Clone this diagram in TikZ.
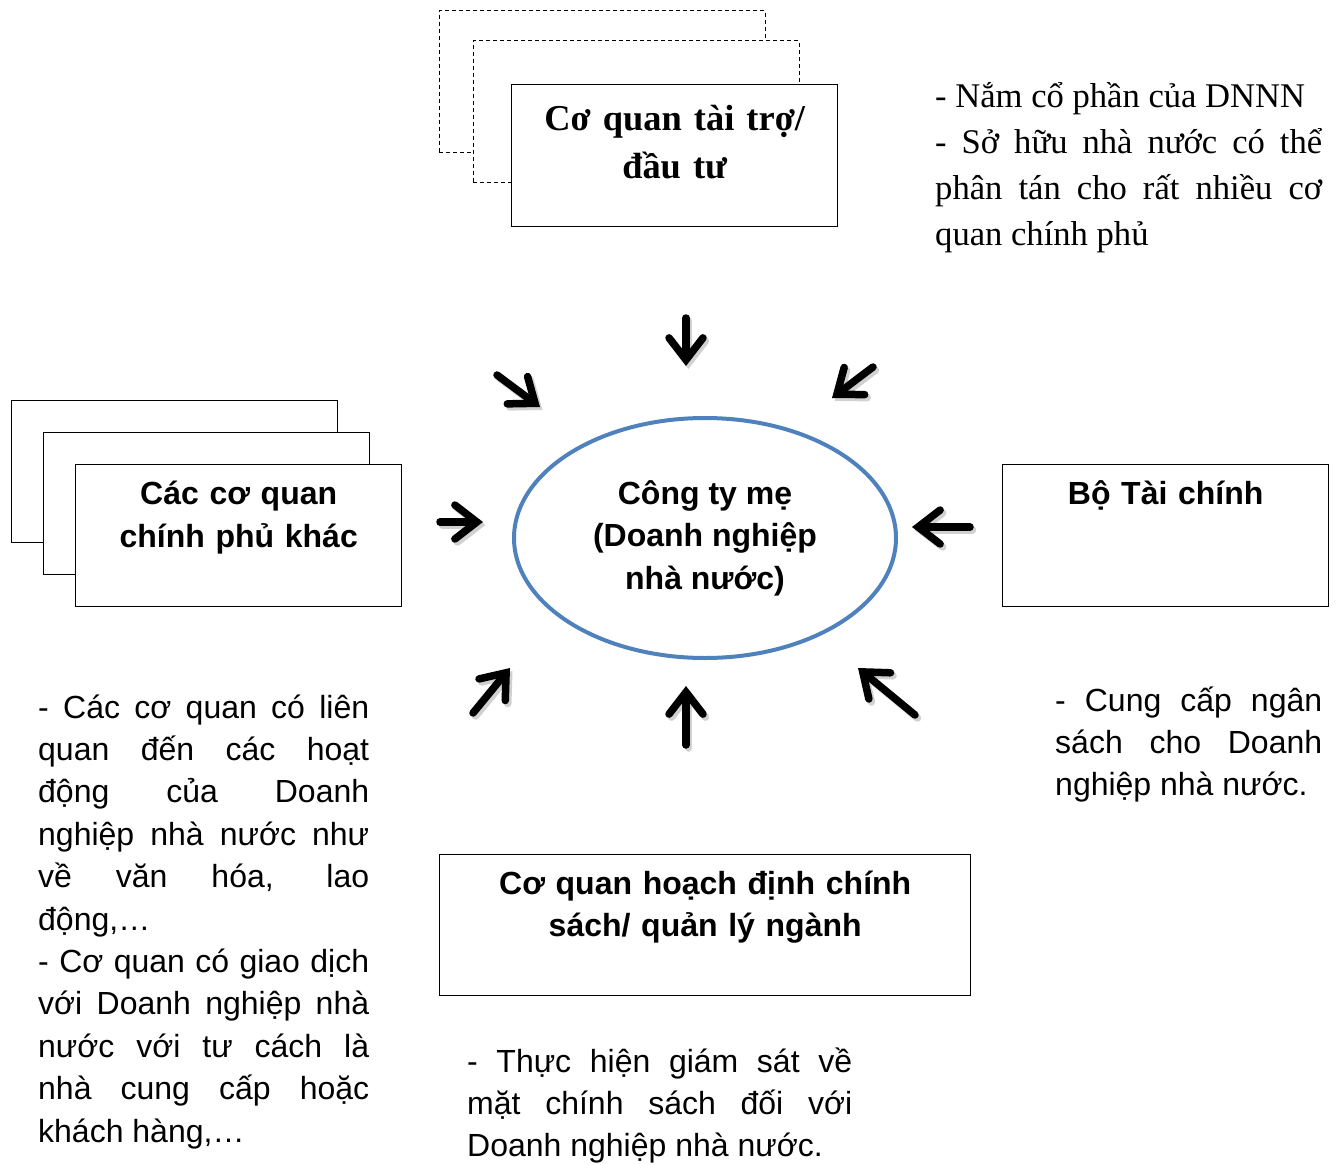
\documentclass[tikz,border=0pt]{standalone}
\usepackage{fontspec}
\setmainfont{Liberation Serif}
\setsansfont{Liberation Sans}
\usetikzlibrary{arrows.meta,shapes.geometric,positioning}
\definecolor{ovalblue}{HTML}{4F81BD}
\hyphenpenalty=10000
\exhyphenpenalty=10000
\tolerance=10000
\hbadness=10000
\tikzset{
  agency/.style={draw, fill=white, line width=1.4pt, minimum width=326pt, minimum height=142pt, inner sep=0pt, anchor=north west},
  backbox/.style={agency, dash pattern=on 4pt off 3pt, line width=1.1pt},
  boxtitle/.style={font=\sffamily\bfseries\fontsize{32}{42.5}\selectfont, text width=440pt, align=center, inner sep=0pt, anchor=base},
  serifnote/.style={font=\fontsize{34.6}{46}\selectfont, align=justify, inner sep=0pt, anchor=base west},
  sansnote/.style={font=\sffamily\fontsize{32}{42.4}\selectfont, align=justify, inner sep=0pt, anchor=base west},
  inarrow/.style={line width=7.5pt, line cap=round, -{Straight Barb[length=22pt, width=34pt, line cap=round, line join=miter]}},
  arrowshadow/.style={inarrow, draw=black!18, transform canvas={shift={(2.5pt,-3pt)}}}
}
\begin{document}
\begin{tikzpicture}[x=1pt, y=-1pt]
    \useasboundingbox (0,0) rectangle (1342,1165);
    % funding / investing agencies
    \node[backbox] (fund3) at (438.5,10) {};
    \node[backbox] (fund2) at (472.5,40) {};
    \node[agency] (fund) at (511,83.5) {};
    \node[boxtitle, font=\bfseries\fontsize{36.4}{48}\selectfont] (fundtitle) at ([yshift=-47]fund.north) {Cơ quan tài trợ/\\ đầu tư};
    \node[serifnote, text width=387pt] (fundnote) at (935,107) {- Nắm cổ phần của DNNN\par
      - Sở hữu nhà nước có thể\linebreak phân tán cho rất nhiều cơ\linebreak quan chính phủ};
    % other government agencies
    \node[agency] (gov3) at (11,399.5) {};
    \node[agency] (gov2) at (43,431.5) {};
    \node[agency] (gov) at (75,463.5) {};
    \node[boxtitle] (govtitle) at ([yshift=-41]gov.north) {Các cơ quan\\ chính phủ khác};
    \node[sansnote, text width=331pt] (govnote) at (38,718) {- Các cơ quan có liên\linebreak quan đến các hoạt\linebreak động của Doanh\linebreak nghiệp nhà nước như\linebreak về văn hóa, lao\linebreak động,\ldots\par
      - Cơ quan có giao dịch\linebreak với Doanh nghiệp nhà\linebreak nước với tư cách là\linebreak nhà cung cấp hoặc\linebreak khách hàng,\ldots};
    % ministry of finance
    \node[agency] (mof) at (1002,463.5) {};
    \node[boxtitle] (moftitle) at ([yshift=-41]mof.north) {Bộ Tài chính};
    \node[sansnote, text width=267pt] (mofnote) at (1055,711) {- Cung cấp ngân\linebreak sách cho Doanh\linebreak nghiệp nhà nước.};
    % policy making agency
    \node[agency, minimum width=531pt, minimum height=141pt] (policy) at (439,854) {};
    \node[boxtitle, text width=531pt] (policytitle) at ([yshift=-40]policy.north) {Cơ quan hoạch định chính\\ sách/ quản lý ngành};
    \node[sansnote, text width=385pt] (policynote) at (467,1072) {- Thực hiện giám sát về\linebreak mặt chính sách đối với\linebreak Doanh nghiệp nhà nước.};
    % parent company
    \node[ellipse, draw=ovalblue, line width=4pt, minimum width=382pt, minimum height=240pt, inner sep=0pt,
          font=\sffamily\bfseries\fontsize{32}{42.5}\selectfont, align=center] (parent) at (705,538) {Công ty mẹ\\ (Doanh nghiệp\\ nhà nước)};
    % arrows pointing at the parent company
    \coordinate (n1) at (686,318);  \coordinate (n2) at (686,366);
    \coordinate (nw1) at (497,375); \coordinate (nw2) at (540,407);
    \coordinate (ne1) at (873,367); \coordinate (ne2) at (832,398);
    \coordinate (w1) at (440,522);  \coordinate (w2) at (483,522);
    \coordinate (e1) at (970,527);  \coordinate (e2) at (912,527);
    \coordinate (sw1) at (473,713); \coordinate (sw2) at (510,668);
    \coordinate (s1) at (686,745);  \coordinate (s2) at (686,686);
    \coordinate (se1) at (915,715); \coordinate (se2) at (858,668);
    \foreach \d in {n,nw,ne,w,e,sw,s,se}
        \draw[arrowshadow] (\d1) -- (\d2);
    \foreach \d in {n,nw,ne,w,e,sw,s,se}
        \draw[inarrow] (\d1) -- (\d2);
\end{tikzpicture}
\end{document}
